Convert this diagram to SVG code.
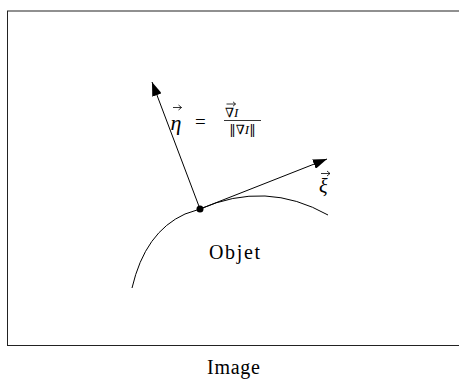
<svg xmlns="http://www.w3.org/2000/svg" width="459" height="381" viewBox="0 0 459 381">
<style>
.t{font-family:"Liberation Serif","DejaVu Serif",serif;fill:#000}
.m{font-family:"DejaVu Serif","Liberation Serif",serif;fill:#000}
.ln{fill:none;stroke:#000;stroke-width:1}
.acc{fill:none;stroke:#000;stroke-width:0.8}
.it{font-style:italic}
</style>
<defs>
<marker id="ah" markerUnits="userSpaceOnUse" markerWidth="15" markerHeight="10" refX="14" refY="5" orient="auto">
<path d="M0,0 L14,5 L0,10 z" fill="#000"/>
</marker>
</defs>
<g id="frame">
<rect x="7.5" y="11" width="453" height="334.5" fill="none" stroke="#222" stroke-width="1"/>
</g>
<g id="object">
<path class="ln" d="M132,288 Q145,232 185,214 L200,209 Q266,180 328,215"/>
<circle cx="200" cy="209" r="3.5" fill="#000"/>
</g>
<g id="connectors">
<line class="ln" x1="200" y1="209" x2="152" y2="82" marker-end="url(#ah)"/>
<line class="ln" x1="200" y1="209" x2="327" y2="159" marker-end="url(#ah)"/>
</g>
<g id="labels">
<text class="t it" x="170.5" y="129.5" font-size="22">η</text>
<path class="acc" d="M173,107.5 H181.5 M178.5,105 L181.5,107.5 L178.5,110"/>
<text class="t" x="195" y="127.5" font-size="19">=</text>
<text class="m" x="225" y="117" font-size="13">∇<tspan class="t it">I</tspan></text>
<path class="acc" d="M226.5,104 H235.5 M233,101.8 L235.5,104 L233,106.2"/>
<line x1="224" y1="120.5" x2="261" y2="120.5" stroke="#000" stroke-width="0.8"/>
<text class="m" x="242.5" y="133.5" font-size="13" text-anchor="middle">‖∇<tspan class="t it">I</tspan>‖</text>
<text class="t it" x="319" y="193" font-size="20">ξ</text>
<path class="acc" d="M321,173.5 H330 M327,171 L330,173.5 L327,176"/>
<text class="t" x="209" y="259" font-size="20" textLength="51">Objet</text>
<text class="t" x="207" y="374" font-size="20" textLength="53">Image</text>
</g>
</svg>
